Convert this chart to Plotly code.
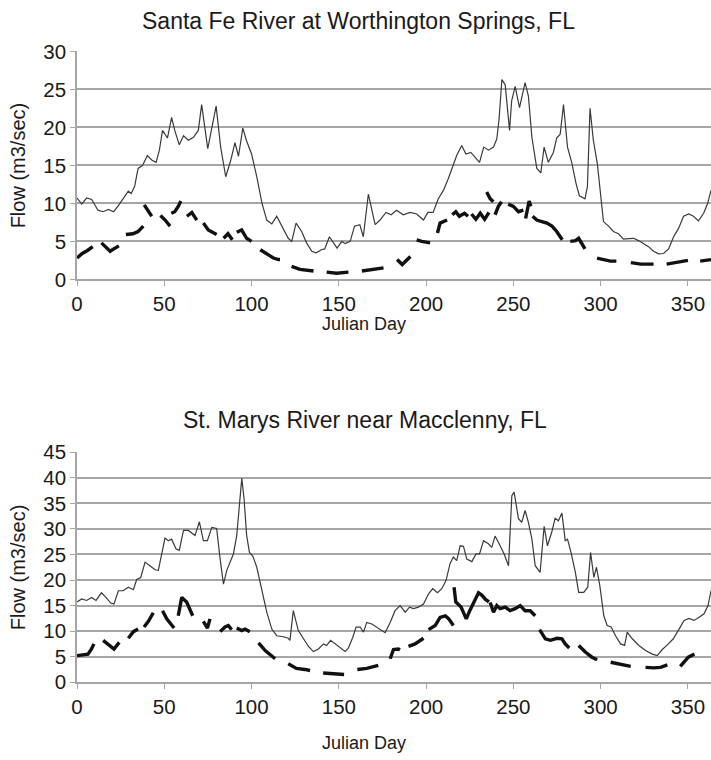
import plotly.graph_objects as go

# ---------------- data: Santa Fe River at Worthington Springs ----------------
sf_day = [0, 2.7, 5.5, 8.4, 12, 15, 18, 21, 24, 26.5, 29.4, 31, 33, 35, 37.6, 40.3, 42.8, 45.3, 47.2, 49,
          51.8, 54.2, 56, 58.6, 61, 63.8, 66.7, 69.5, 71.4, 74.9, 77, 79.7, 82.3, 85.2, 88, 90.5, 92.5, 95,
          97, 100, 103, 106, 108.7, 111.6, 114.4, 117, 119, 121, 123, 125.5, 128.7, 131.5, 134.5, 137, 140,
          141.9, 144.6, 147, 149, 151.7, 153.6, 156.5, 159, 162, 164, 166.9, 169, 170.8, 173.6, 177, 180,
          183, 186.9, 190.8, 194.6, 198.5, 201, 204, 207, 209.9, 212.8, 215.6, 217.5, 220.4, 222.8, 225.6,
          228, 230.6, 233, 235.7, 238.6, 240.5, 241.8, 243.4, 245.3, 247.8, 249, 251, 253.5, 256.7, 258.6,
          260.6, 263.4, 265.7, 267.6, 270, 272.9, 274.8, 276.8, 278.7, 281, 283.4, 285.9, 287.8, 291, 292.4,
          293.9, 295.8, 298.1, 300, 301.6, 304.5, 307.3, 310.2, 313, 316, 318.8, 321.7, 324.6, 327.4, 330.3,
          333.2, 336, 338.9, 341.8, 344.6, 347.5, 350.4, 353.2, 356, 359, 361.3, 363.2]
sf_flow = [10.7, 9.9, 10.7, 10.5, 9.1, 8.9, 9.2, 8.9, 9.8, 10.6, 11.6, 11.3, 12.2, 14.6, 15, 16.3, 15.7, 15.4, 17, 19.6,
           18.6, 21.3, 19.6, 17.7, 18.9, 18.3, 18.7, 19.6, 23, 17.2, 19.6, 22.8, 17.4, 13.5, 15.6, 18, 16.2, 19.9,
           18.3, 16.5, 13.5, 10, 7.8, 7.3, 8.3, 7.2, 6.3, 5.4, 5, 7.4, 6.3, 4.8, 3.7, 3.5, 3.9,
           4.0, 5.6, 4.8, 4.1, 5, 4.7, 5, 7, 7.2, 5.6, 11.2, 9.1, 7.2, 7.8, 8.8, 8.5,
           9.1, 8.5, 8.8, 8.6, 7.8, 8.8, 8.8, 10.6, 11.7, 13.3, 15.2, 16.3, 17.6, 16.5, 16.7,
           16.1, 15.4, 17.4, 17, 17.4, 18.5, 21.1, 26.3, 25.6, 19.6, 23.5, 25.4, 22.6, 25.9, 24.1,
           18.7, 14.6, 14, 17.4, 15.4, 16.7, 18.6, 19.1, 23, 17.4, 15.4, 12.6, 11, 10.6, 12.2,
           22.5, 18.3, 15.2, 10.9, 7.6, 7, 6.3, 6, 5.3, 5.35, 5.4, 5.1, 4.7, 4.3, 3.7,
           3.35, 3.4, 4, 5.6, 6.7, 8.3, 8.6, 8.3, 7.7, 8.7, 10, 11.7]
N = None
sf_obs_day = [0, 3, 6, 9, N, 14, 16, 19, 21, 24, N, 28, 32, 35, 38, N, 38.5, 40.5, 42.8, N, 47.8, 50.5, 53.3, N,
              54, 56, 58, 59.5, N, 63, 65.8, 68.6, N, 72.4, 75.2, 80, N, 84, 86.5, 89, N, 91.5, 94.3, 97.2, 100, N,
              105, 108.7, 112.5, 115.4, 116.3, N, 122.9, 127.7, 135.5, N, 143, 148.7, 155.5, N, 163.2, 169.9, 175.6, N,
              183.4, 186.3, 191, N, 194.6, 197.5, 202.3, N, 206.5, 208, 212, N, 215, 217, 219, 222, 224, N,
              226, 228.5, 231, 233.5, 236, N, 234.7, 236.7, 238.5, N, 239.5, 241.4, 243.2, N, 247, 250, 252.9, 255.7, N,
              257, 259, 260, N, 261, 263.4, 266.3, 269.2, 272.1, 274.8, 278, N, 282.6, 285.5, 287.4, 289.4, 291, N,
              297.9, 301.6, 305.5, 309, N, 317.3, 323, 330.3, N, 337.8, 342.6, 350, N, 357, 363.2]
sf_obs_flow = [2.8, 3.4, 3.8, 4.3, N, 4.8, 4.3, 3.7, 4.0, 4.4, N, 5.9, 6.0, 6.3, 7.0, N, 9.8, 9.0, 8.3, N, 8.4, 7.8, 7.0, N,
               8.7, 8.9, 9.6, 10.3, N, 8.3, 8.8, 7.8, N, 7.4, 6.5, 5.9, N, 5.4, 6.0, 5.2, N, 6.2, 6.5, 5.4, 5.0, N,
               3.9, 3.3, 2.8, 2.6, 2.6, N, 1.7, 1.3, 1.1, N, 0.95, 0.8, 0.95, N, 1.1, 1.3, 1.5, N,
               2.6, 1.95, 3.0, N, 5.2, 5.0, 4.8, N, 6.1, 7.4, 7.8, N, 8.5, 8.9, 8.3, 8.7, 8.3, N,
               8.6, 7.9, 8.7, 7.9, 8.8, N, 11.5, 10.6, 10.2, N, 8.5, 9.6, 10.2, N, 9.9, 9.6, 8.9, 9.1, N,
               8.0, 10.3, 9.6, N, 8.3, 7.8, 7.6, 7.4, 7.0, 6.3, 5.2, N, 5.0, 5.1, 5.4, 4.6, 4.0, N,
               2.8, 2.6, 2.4, 2.4, N, 2.2, 2.0, 2.0, N, 2.0, 2.2, 2.5, N, 2.4, 2.6]

# ---------------- data: St. Marys River near Macclenny ----------------
sm_day = [0, 2.7, 5.5, 8.4, 10.9, 14, 16.6, 19.3, 21.2, 23.7, 26.5, 29.4, 32.3, 34.2, 36.5, 39, 41.8, 44.7, 46.6,
          48.5, 50.4, 52.3, 54.2, 56.7, 58.6, 61, 63.8, 67.6, 70.1, 72.4, 74.7, 77.2, 80, 82, 83.9, 85.8, 87.7,
          89.6, 91.5, 92.8, 94.4, 95.7, 97.2, 98.8, 100.7, 103, 105.8, 108.7, 111.6, 114.4, 118.2, 121, 122,
          123.9, 126.8, 129.7, 132.6, 135.4, 138.3, 141.2, 143, 145.3, 147.8, 150.7, 153.6, 155.5, 158, 159.9,
          162.2, 164.1, 166, 168.9, 171.7, 174.6, 176.5, 179.4, 182.2, 185.1, 188, 190.5, 192.8, 195.6, 198.5,
          201.4, 203.8, 206.5, 209, 211.4, 213.7, 215.6, 217.5, 219.5, 221.4, 223.3, 226.2, 228.6, 230.6, 232.9,
          235.7, 237.6, 239.5, 242.4, 244.7, 247.2, 249.1, 250.4, 252.9, 254.8, 256.7, 258.6, 260.6, 262.5,
          265.3, 267.6, 269.5, 272, 273.9, 275.8, 277.8, 279.7, 281, 283, 285.5, 287.4, 290.3, 292.6, 294.2,
          296.1, 297.6, 299.5, 301.8, 303.7, 306, 308.5, 311.4, 313.7, 315.2, 318.1, 321.9, 325.7, 329.6, 332.4,
          335.3, 338.2, 341.6, 344.9, 347.8, 350.6, 353.5, 356.4, 359.2, 361.5, 363.2]
sm_flow = [15.7, 16.3, 16, 16.6, 16, 17.5, 16.6, 15.5, 15.3, 17.9, 17.9, 18.6, 18.1, 20.1, 20.5, 23.5, 22.8, 22, 21.9,
           25.4, 28.2, 27.7, 28, 26.1, 25.8, 29.7, 29.7, 28.7, 31.4, 27.7, 27.7, 30.3, 30.1, 24.1, 19.2, 21.9, 23.5,
           25.1, 28.7, 34.6, 39.9, 35.9, 28.7, 25.4, 24.7, 22.5, 18.3, 13.7, 10.4, 9.1, 8.9, 8.6, 8.2,
           14, 10.1, 8.5, 7.0, 6.0, 6.5, 7.5, 7.2, 8.2, 7.5, 6.7, 6.0, 6.7, 8.8, 10.8,
           10.8, 9.8, 11.7, 11.4, 10.8, 10.1, 9.7, 11.7, 14, 15, 13.7, 14.7, 14.4, 14.7, 15.3,
           17.3, 18.3, 17.5, 18.3, 19.9, 23.2, 24.5, 23.8, 26.7, 26.6, 24.1, 23.6, 25.1, 25.1, 27.7,
           27.1, 26.4, 28.6, 26.7, 25.1, 22.8, 36.5, 37.2, 32, 31.3, 33.6, 31.3, 28, 22.8,
           21.5, 30.5, 26.7, 29.4, 32.1, 31.6, 33.1, 27.7, 28, 25.4, 21.5, 17.6, 17.6, 18.6, 25.4,
           20.5, 22.5, 18.9, 13, 11.1, 10.8, 9.1, 7.5, 7.2, 9.8, 8.5, 7.2, 6.2, 5.5, 5.2,
           6.4, 7.3, 8.5, 10.4, 12.1, 12.5, 12.1, 12.7, 13.4, 15, 17.9]
sm_obs_day = [0, 3.4, 6.3, 8.3, 9.7, N, 15, 18.5, 21.2, 24.2, N, 29.4, 32.3, 35, N, 38.4, 40.9, 43.7, N, 49, 51.4, 55.6, N,
              58, 60, 62.8, 66.3, N, 72.4, 74.7, 76.2, N, 82, 84.8, 86.7, 88.6, N, 91.5, 94.4, 96.3, 99, N,
              104, 107.8, 113.5, N, 121, 125.7, 130.5, 133.5, N, 141, 146.8, 153, N, 160.6, 166, 172.6, N,
              179.4, 181.3, 184.1, 185, N, 189.9, 193.7, 198.5, N, 201.4, 205.2, 208, 211, 213, 215.6, N,
              216, 217, 220, 223, 225, 227, 229, 230, 232, 234, 236, N,
              236.7, 238.6, 240.5, 242.4, 245.3, 248.1, 251, 253.9, 256.7, 259.6, 262.5, N,
              265, 268.3, 271.2, 275, 277.8, 279.7, 282, N, 287.4, 291.2, 295, 298, N,
              305.7, 309.6, 313.4, 317.2, N, 325.7, 330.5, 334.3, 338.2, N, 345.6, 348.4, 350.2, 353.7]
sm_obs_flow = [5.2, 5.3, 5.5, 6.5, 7.5, N, 8.2, 7.3, 6.5, 7.8, N, 8.6, 9.9, 10.4, N, 10.8, 11.9, 13.6, N, 14, 12.4, 10.6, N,
               13, 16.6, 15.7, 13, N, 11.9, 10.6, 12.4, N, 9.9, 10.8, 11.1, 10.3, N, 10.6, 10.1, 10.4, 9.9, N,
               7.7, 6.2, 4.6, N, 3.6, 2.7, 2.5, 2.3, N, 1.8, 1.6, 1.5, N, 2.5, 2.7, 3.3, N,
               4.6, 6.4, 6.5, 6.3, N, 7.0, 7.5, 8.6, N, 10.3, 11.1, 12.7, 13, 12.4, 11.1, N,
               18.6, 15.7, 14.7, 12.4, 14, 15.4, 16.5, 17.5, 17, 16.2, 15.7, N,
               15.6, 13.7, 15, 14.4, 14.7, 14, 14.4, 15, 14, 14, 13, N,
               10.3, 8.5, 8.2, 8.6, 8.5, 7.5, 6.7, N, 7.2, 5.9, 4.9, 4.4, N,
               3.9, 3.6, 3.3, 3.1, N, 2.9, 2.8, 2.9, 3.4, N, 3.1, 4.2, 4.9, 5.5]

x_ticks = [0, 50, 100, 150, 200, 250, 300, 350]
top_title = "Santa Fe River at Worthington Springs, FL"
bottom_title = "St. Marys River near Macclenny, FL"
x_title = "Julian Day"
y_title = "Flow (m3/sec)"

W, H = 711, 760
FONT = "Liberation Sans, Arial, sans-serif"
TXT = "#1a1a1a"
GRID = "#a6a6a6"

fig = go.Figure()
solid = dict(color="#3a3a3a", width=1.2)
thick = dict(color="#111111", width=3.4)
fig.add_trace(go.Scatter(x=sf_day, y=sf_flow, mode="lines", line=solid, xaxis="x", yaxis="y"))
fig.add_trace(go.Scatter(x=sf_obs_day, y=sf_obs_flow, mode="lines", line=thick, connectgaps=False, xaxis="x", yaxis="y"))
fig.add_trace(go.Scatter(x=sm_day, y=sm_flow, mode="lines", line=solid, xaxis="x2", yaxis="y2"))
fig.add_trace(go.Scatter(x=sm_obs_day, y=sm_obs_flow, mode="lines", line=thick, connectgaps=False, xaxis="x2", yaxis="y2"))

L = 77
def vy(t):  # target pixel -> layout pixel (vertical calibration)
    return (t - 12.6) / 0.97
def py(p):
    return 1 - vy(p) / H
def px(p):
    return (p - L) / (W - L)

xcommon = dict(range=[0, 363.2], tickvals=x_ticks, showgrid=False, zeroline=False, showline=True,
               linecolor=GRID, linewidth=1.5, ticks="outside", ticklen=5, tickcolor=GRID, tickwidth=1.2,
               tickfont=dict(family=FONT, size=20.5, color=TXT), domain=[0, 1])
ycommon = dict(showgrid=True, gridcolor=GRID, gridwidth=1.5, zeroline=False, showline=True,
               linecolor=GRID, linewidth=1.5, ticks="outside", ticklen=5, tickcolor=GRID, tickwidth=1.2,
               tickfont=dict(family=FONT, size=20.5, color=TXT))

fig.update_layout(
    width=W, height=H, showlegend=False,
    paper_bgcolor="white", plot_bgcolor="white",
    margin=dict(l=L, r=0, t=0, b=0),
    xaxis=dict(**xcommon, anchor="y"),
    yaxis=dict(**ycommon, range=[0, 30], dtick=5, domain=[py(280), py(52)], anchor="x"),
    xaxis2=dict(**xcommon, anchor="y2"),
    yaxis2=dict(**ycommon, range=[0, 45], dtick=5, domain=[py(683), py(453)], anchor="x2"),
)

def ann(text, x_px, y_px, size, angle=0):
    fig.add_annotation(text=text, xref="paper", yref="paper",
                       x=px(x_px), y=py(y_px), showarrow=False, textangle=angle,
                       font=dict(family=FONT, size=size, color=TXT), xanchor="center", yanchor="middle")

ann(top_title, 358, 22, 23)
ann(bottom_title, 365, 421, 23)
ann(x_title, 364, 325, 18)
ann(x_title, 364, 744, 18)
ann(y_title, 18, 166, 20, -90)
ann(y_title, 18, 568, 20, -90)

page_fix = ("document.documentElement.style.margin='0';document.documentElement.style.padding='0';"
            "document.documentElement.style.overflow='hidden';"
            "document.body.style.margin='0';document.body.style.padding='0';document.body.style.overflow='hidden';")
fig.write_html("out.html", post_script=page_fix, config={"displayModeBar": False})
